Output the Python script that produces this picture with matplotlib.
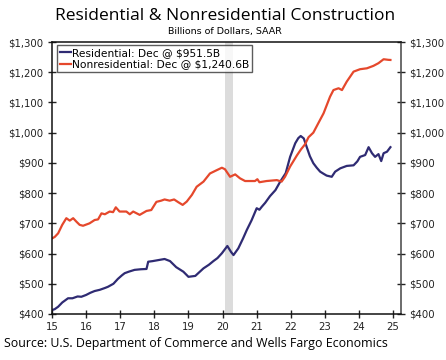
import matplotlib.pyplot as plt
from matplotlib.ticker import FuncFormatter

# decimal-year positions and values (billions of $, SAAR)
res_x = [15.0, 15.08, 15.18, 15.3, 15.47, 15.6, 15.75, 15.86, 16.0, 16.12, 16.25,
         16.4, 16.55, 16.64, 16.8, 16.93, 17.05, 17.13, 17.25, 17.42, 17.6, 17.77,
         17.82, 17.95, 18.1, 18.3, 18.46, 18.64, 18.85, 19.0, 19.2, 19.44, 19.6,
         19.73, 19.85, 19.98, 20.14, 20.25, 20.32, 20.46, 20.6, 20.71, 20.85, 21.0,
         21.08, 21.15, 21.25, 21.39, 21.55, 21.69, 21.85, 21.98, 22.13, 22.22, 22.29,
         22.38, 22.48, 22.56, 22.66, 22.76, 22.86, 22.96, 23.05, 23.2, 23.3, 23.45,
         23.64, 23.84, 23.95, 24.03, 24.18, 24.28, 24.38, 24.47, 24.57, 24.65, 24.72,
         24.82, 24.92]
res_y = [413, 416, 424, 438, 452, 452, 458, 457, 463, 470, 476,
         480, 486, 490, 500, 516, 528, 535, 540, 546, 548, 549,
         573, 575, 578, 582, 575, 555, 540, 523, 526, 551, 563,
         575, 585, 601, 625, 605, 595, 617, 650, 678, 710, 750,
         745, 755, 768, 790, 810, 838, 866, 920, 965, 982, 989,
         981, 948, 922, 899, 884, 871, 864, 858, 854, 871, 882,
         890, 892, 905, 920, 926, 952, 932, 920, 929, 906, 932,
         937, 952]

nonres_x = [15.0, 15.08, 15.18, 15.3, 15.42, 15.52, 15.62, 15.72, 15.81, 15.91,
            16.1, 16.25, 16.35, 16.45, 16.55, 16.69, 16.79, 16.87, 16.98, 17.18,
            17.28, 17.38, 17.57, 17.77, 17.91, 18.06, 18.2, 18.3, 18.45, 18.58,
            18.7, 18.83, 18.95, 19.1, 19.24, 19.44, 19.63, 19.83, 19.98, 20.07,
            20.22, 20.37, 20.51, 20.66, 20.95, 21.02, 21.08, 21.29, 21.59, 21.73,
            21.83, 21.98, 22.18, 22.3, 22.42, 22.52, 22.66, 22.8, 22.96, 23.15,
            23.25, 23.4, 23.5, 23.64, 23.84, 24.03, 24.23, 24.42, 24.57, 24.72,
            24.86, 24.92]
nonres_y = [650, 655, 667, 695, 717, 709, 717, 705, 695, 692,
            700, 711, 713, 733, 730, 739, 737, 753, 739, 739,
            730, 739, 728, 741, 744, 771, 775, 779, 775, 779,
            770, 761, 772, 794, 821, 838, 865, 876, 884, 879,
            854, 862, 849, 840, 840, 846, 836, 840, 843, 838,
            854, 888, 925, 945, 962, 985, 1000, 1030, 1064, 1119,
            1141, 1147, 1141, 1169, 1202, 1210, 1213, 1221, 1230, 1243,
            1241, 1240.6]

recession = (20.08, 20.30)

res_label = "Residential: Dec @ $951.5B"
nonres_label = "Nonresidential: Dec @ $1,240.6B"

fig = plt.figure(figsize=(4.46, 3.6), dpi=100)
ax = fig.add_axes([0.1166, 0.1278, 0.7825, 0.7555])

ax.axvspan(*recession, color="#dcdcdc", lw=0, zorder=0)
ax.plot(res_x, res_y, color="#2f2b73", lw=1.6, label=res_label)
ax.plot(nonres_x, nonres_y, color="#e5482c", lw=1.6, label=nonres_label)

ax.set_xlim(15, 25.23)
ax.set_ylim(400, 1300)
ax.set_xticks(range(15, 26))
ax.set_yticks(range(400, 1301, 100))
money = FuncFormatter(lambda v, p: f"${v:,.0f}")
ax.yaxis.set_major_formatter(money)
ax.tick_params(direction="inout", length=6, width=1, labelsize=7.3,
               colors="#222222", pad=3)
ax.tick_params(axis="y", right=True, labelright=True)
for s in ax.spines.values():
    s.set_linewidth(1.1)
    s.set_color("#111111")
ax.spines["right"].set_color("#444444")

leg = ax.legend(loc="upper left", bbox_to_anchor=(0.014, 0.988), fontsize=7.7,
                handlelength=1.1, handletextpad=0.1, borderpad=0.25,
                labelspacing=0.15, fancybox=False, frameon=True, borderaxespad=0)
leg.get_frame().set_edgecolor("#333333")
leg.get_frame().set_linewidth(1.0)

fig.text(0.505, 0.955, "Residential & Nonresidential Construction",
         ha="center", va="center", fontsize=12.5, family="Open Sans")
fig.text(0.505, 0.913, "Billions of Dollars, SAAR", ha="center", va="center",
         fontsize=6.8)
fig.text(0.01, 0.045, "Source: U.S. Department of Commerce and Wells Fargo Economics",
         ha="left", va="center", fontsize=8.9, family="Open Sans")

fig.savefig("out.png", dpi=100)
